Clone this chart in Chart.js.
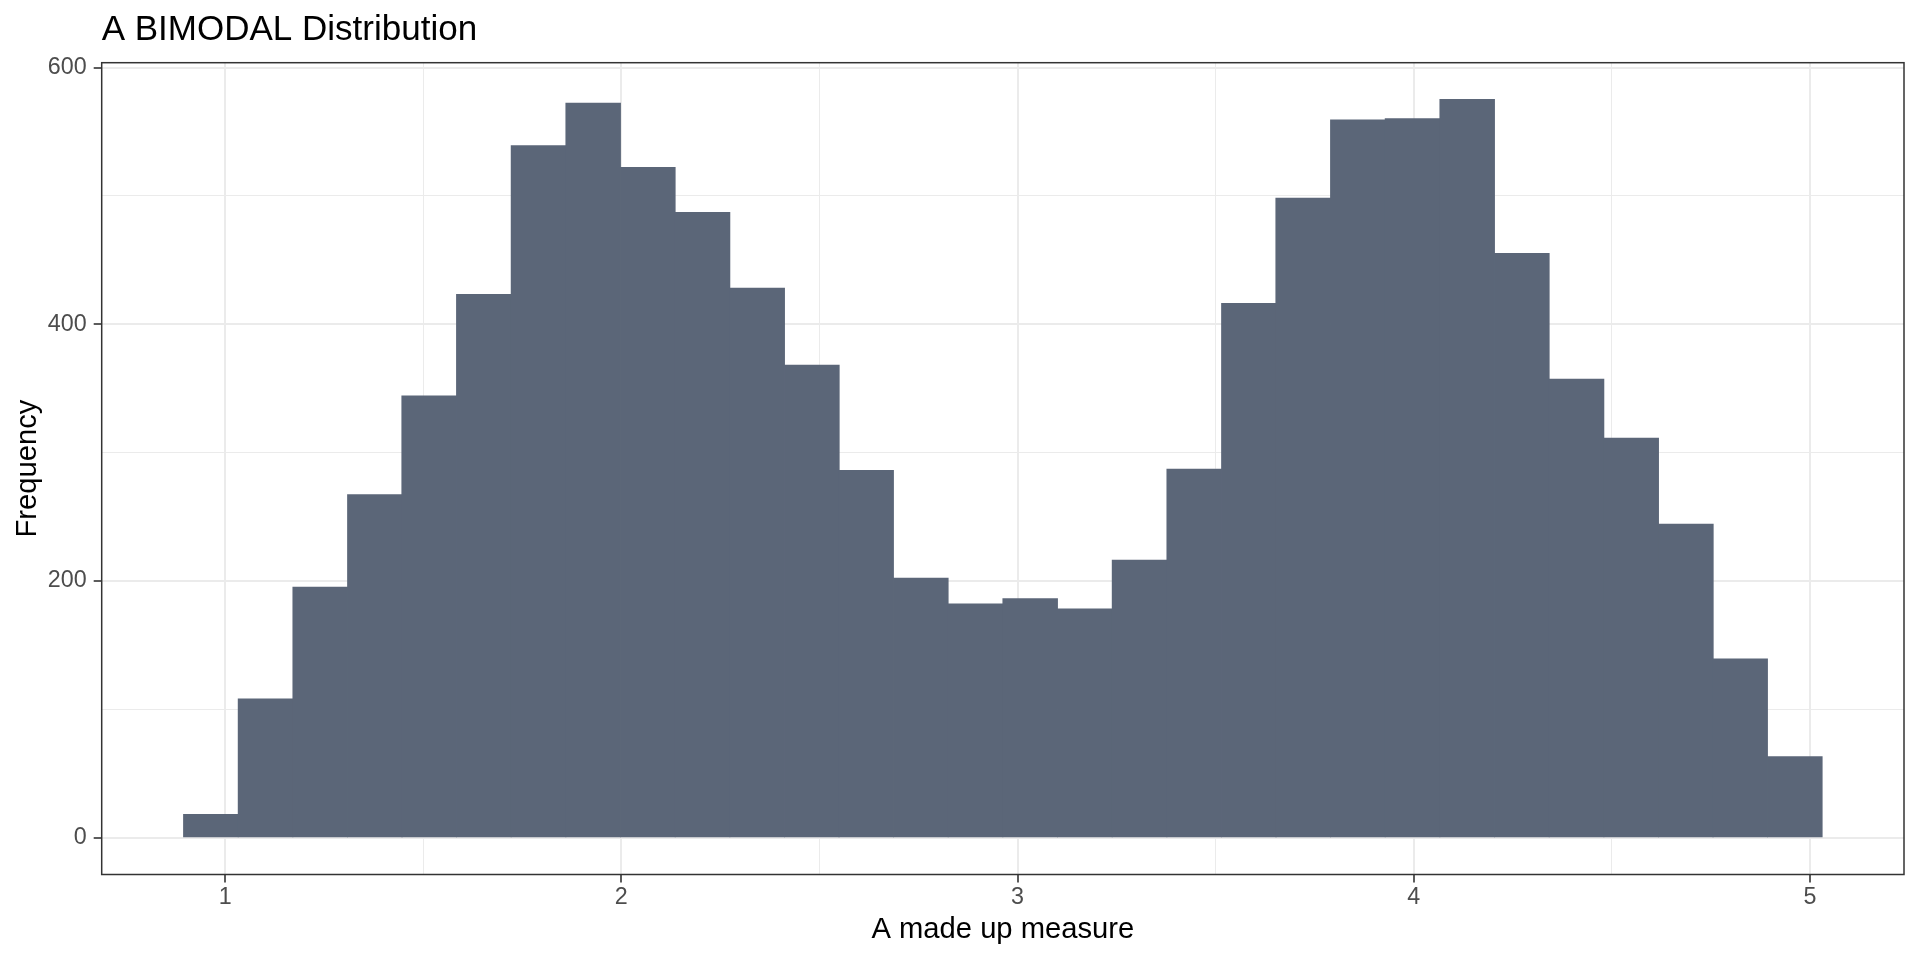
<!DOCTYPE html>
<html lang="en">
<head>
<meta charset="utf-8">
<title>A BIMODAL Distribution</title>
<script src="https://cdn.jsdelivr.net/npm/chart.js@4.4.1/dist/chart.umd.min.js"></script>
<style>
    html, body { margin: 0; padding: 0; background: #ffffff; }
    #wrap { width: 1920px; height: 960px; }
</style>
</head>
<body>
<div id="wrap"><canvas id="histChart" width="1920" height="960"></canvas></div>
<script>
// Histogram bins (centres) and counts
const binCenters = [0.964, 1.102, 1.240, 1.378, 1.515, 1.653, 1.791, 1.929, 2.067, 2.205,
                    2.343, 2.481, 2.618, 2.756, 2.894, 3.032, 3.170, 3.308, 3.446, 3.584,
                    3.721, 3.859, 3.997, 4.135, 4.273, 4.411, 4.549, 4.687, 4.824, 4.962];
const counts = [18, 108, 195, 267, 344, 423, 539, 572, 522, 487,
                428, 368, 286, 202, 182, 186, 178, 216, 287, 416,
                498, 559, 560, 575, 455, 357, 311, 244, 139, 63];

// Labelled ticks (minor grid lines sit half way between them)
const xTicks = [1, 2, 3, 4, 5];
const yTicks = [0, 200, 400, 600];

const chartTitle = 'A BIMODAL Distribution';
const xTitle = 'A made up measure';
const yTitle = 'Frequency';

const FONT = "'Liberation Sans', Arial, Helvetica, sans-serif";
const barColor = '#5B6678';
const gridColor = '#EBEBEB';
const axisColor = '#333333';

// Title drawn at the left edge of the panel, like ggplot does
const titlePlugin = {
    id: 'ggTitle',
    afterDraw(chart) {
        const { ctx, chartArea } = chart;
        ctx.save();
        ctx.font = `35px ${FONT}`;
        ctx.fillStyle = '#000000';
        ctx.textAlign = 'left';
        ctx.textBaseline = 'alphabetic';
        ctx.fillText(chartTitle, chartArea.left, 39.5);
        ctx.restore();
    }
};

// Panel border on all four sides (theme_bw)
const panelBorder = {
    id: 'panelBorder',
    afterDraw(chart) {
        const { ctx, chartArea: a } = chart;
        ctx.save();
        ctx.strokeStyle = axisColor;
        ctx.lineWidth = 1.5;
        ctx.strokeRect(a.left, a.top, a.right - a.left, a.bottom - a.top);
        ctx.restore();
    }
};

function isMajor(list, value) {
    return list.some(v => Math.abs(v - value) < 1e-6);
}

function renderHistogram() {
    const ctx = document.getElementById('histChart').getContext('2d');

    new Chart(ctx, {
        type: 'bar',
        data: {
            datasets: [{
                data: binCenters.map((x, i) => ({ x: x, y: counts[i] })),
                backgroundColor: barColor,
                borderWidth: 0,
                inflateAmount: 0.6,
                barPercentage: 1,
                categoryPercentage: 1
            }]
        },
        options: {
            responsive: false,
            animation: false,
            devicePixelRatio: 1,
            layout: { padding: { top: 62.7, right: 16, left: 0, bottom: 0 } },
            plugins: {
                legend: { display: false },
                tooltip: { enabled: false }
            },
            scales: {
                x: {
                    type: 'linear',
                    min: 0.6885,
                    max: 5.2375,
                    offset: false,
                    border: { display: false },
                    grid: {
                        offset: false,
                        color: gridColor,
                        lineWidth: c => isMajor(xTicks, c.tick ? c.tick.value : 0) ? 2 : 1,
                        tickColor: axisColor,
                        tickWidth: c => isMajor(xTicks, c.tick ? c.tick.value : 0) ? 1.6 : 0,
                        tickLength: 8
                    },
                    ticks: {
                        stepSize: 0.5,
                        includeBounds: false,
                        autoSkip: false,
                        maxRotation: 0,
                        padding: 1,
                        color: '#4D4D4D',
                        font: { family: FONT, size: 23.3 },
                        callback: v => isMajor(xTicks, v) ? String(v) : ''
                    },
                    title: {
                        display: true,
                        text: xTitle,
                        color: '#000000',
                        font: { family: FONT, size: 29.2, lineHeight: 1.2 },
                        padding: { top: 0, bottom: 12.5 }
                    },
                    afterFit: scale => { scale.height = 85.5; }
                },
                y: {
                    type: 'linear',
                    min: -28.75,
                    max: 603.75,
                    border: { display: false },
                    grid: {
                        color: gridColor,
                        lineWidth: c => isMajor(yTicks, c.tick ? c.tick.value : 0) ? 2 : 1,
                        tickColor: axisColor,
                        tickWidth: c => isMajor(yTicks, c.tick ? c.tick.value : 0) ? 1.6 : 0,
                        tickLength: 8
                    },
                    ticks: {
                        stepSize: 100,
                        includeBounds: false,
                        autoSkip: false,
                        padding: 7,
                        color: '#4D4D4D',
                        font: { family: FONT, size: 23.3 },
                        callback: v => isMajor(yTicks, v) ? String(v) : ''
                    },
                    title: {
                        display: true,
                        text: yTitle,
                        color: '#000000',
                        font: { family: FONT, size: 29.2, lineHeight: 1.2 },
                        padding: { top: 10.5, bottom: 0 }
                    },
                    afterFit: scale => { scale.width = 101.7; }
                }
            }
        },
        plugins: [titlePlugin, panelBorder]
    });
}

renderHistogram();
</script>
</body>
</html>
